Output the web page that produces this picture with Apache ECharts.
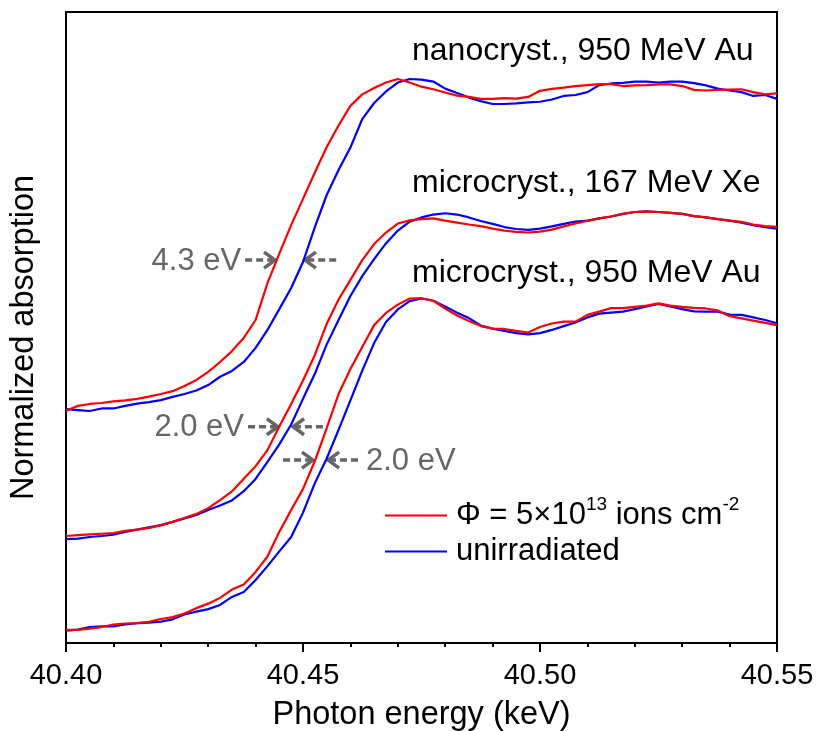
<!DOCTYPE html>
<html>
<head>
<meta charset="utf-8">
<script src="https://cdn.jsdelivr.net/npm/echarts@6/dist/echarts.min.js"></script>
<style>
  html, body { margin: 0; padding: 0; background: #fff; }
  #chart { width: 817px; height: 731px; }
</style>
</head>
<body>
<div id="chart"></div>
<script>
// Photon energy grid (keV)
const energy = [
  40.4000, 40.4025, 40.4050, 40.4075, 40.4100, 40.4125, 40.4150, 40.4175, 40.4200, 40.4225,
  40.4250, 40.4275, 40.4300, 40.4325, 40.4350, 40.4375, 40.4400, 40.4425, 40.4450, 40.4475,
  40.4500, 40.4525, 40.4550, 40.4575, 40.4600, 40.4625, 40.4650, 40.4675, 40.4700, 40.4725,
  40.4750, 40.4775, 40.4800, 40.4825, 40.4850, 40.4875, 40.4900, 40.4925, 40.4950, 40.4975,
  40.5000, 40.5025, 40.5050, 40.5075, 40.5100, 40.5125, 40.5150, 40.5175, 40.5200, 40.5225,
  40.5250, 40.5275, 40.5300, 40.5325, 40.5350, 40.5375, 40.5400, 40.5425, 40.5450, 40.5475,
  40.5500
];

// Normalized absorption, spectra offset vertically for clarity
// nanocrystalline, 950 MeV Au
const nanoIrr = [
  0.756, 0.771, 0.777, 0.780, 0.785, 0.788, 0.793, 0.800, 0.808, 0.817,
  0.833, 0.852, 0.877, 0.908, 0.942, 0.983, 1.039, 1.154, 1.246, 1.335,
  1.417, 1.499, 1.579, 1.646, 1.707, 1.743, 1.763, 1.780, 1.791, 1.780,
  1.767, 1.759, 1.749, 1.739, 1.735, 1.729, 1.729, 1.731, 1.730, 1.735,
  1.754, 1.760, 1.764, 1.769, 1.772, 1.775, 1.775, 1.769, 1.771, 1.772,
  1.774, 1.774, 1.769, 1.757, 1.755, 1.757, 1.758, 1.759, 1.750, 1.743, 1.746
];
const nanoRef = [
  0.761, 0.758, 0.755, 0.763, 0.763, 0.771, 0.778, 0.783, 0.789, 0.799,
  0.808, 0.819, 0.836, 0.862, 0.880, 0.908, 0.952, 1.008, 1.073, 1.139,
  1.220, 1.329, 1.429, 1.507, 1.577, 1.666, 1.716, 1.752, 1.780, 1.791,
  1.789, 1.783, 1.761, 1.747, 1.733, 1.722, 1.713, 1.713, 1.715, 1.718,
  1.720, 1.727, 1.738, 1.741, 1.750, 1.772, 1.777, 1.779, 1.783, 1.783,
  1.780, 1.783, 1.783, 1.778, 1.771, 1.761, 1.755, 1.750, 1.738, 1.741, 1.729
];
// microcrystalline, 167 MeV Xe
const xeIrr = [
  0.365, 0.368, 0.370, 0.372, 0.374, 0.381, 0.385, 0.390, 0.398, 0.409,
  0.421, 0.434, 0.452, 0.477, 0.504, 0.544, 0.583, 0.633, 0.707, 0.777,
  0.850, 0.930, 1.027, 1.103, 1.164, 1.226, 1.276, 1.312, 1.340, 1.350,
  1.354, 1.356, 1.349, 1.343, 1.337, 1.332, 1.324, 1.318, 1.314, 1.312,
  1.315, 1.321, 1.331, 1.340, 1.348, 1.356, 1.362, 1.370, 1.376, 1.377,
  1.376, 1.373, 1.370, 1.363, 1.359, 1.354, 1.349, 1.345, 1.337, 1.332, 1.330
];
const xeRef = [
  0.355, 0.357, 0.362, 0.365, 0.369, 0.378, 0.385, 0.392, 0.399, 0.409,
  0.420, 0.431, 0.446, 0.460, 0.476, 0.505, 0.543, 0.596, 0.651, 0.713,
  0.793, 0.871, 0.963, 1.039, 1.114, 1.176, 1.229, 1.278, 1.318, 1.346,
  1.359, 1.368, 1.372, 1.368, 1.359, 1.348, 1.339, 1.329, 1.323, 1.320,
  1.324, 1.331, 1.339, 1.346, 1.349, 1.356, 1.362, 1.370, 1.376, 1.378,
  1.376, 1.373, 1.370, 1.363, 1.359, 1.354, 1.349, 1.343, 1.335, 1.329, 1.324
];
// microcrystalline, 950 MeV Au
const auIrr = [
  0.072, 0.072, 0.076, 0.081, 0.089, 0.092, 0.093, 0.097, 0.106, 0.112,
  0.123, 0.140, 0.154, 0.172, 0.198, 0.214, 0.253, 0.301, 0.378, 0.446,
  0.512, 0.599, 0.702, 0.808, 0.886, 0.955, 1.023, 1.061, 1.087, 1.106,
  1.107, 1.099, 1.075, 1.053, 1.036, 1.020, 1.012, 1.011, 1.005, 1.000,
  1.017, 1.028, 1.034, 1.034, 1.055, 1.065, 1.076, 1.076, 1.080, 1.084,
  1.091, 1.084, 1.080, 1.077, 1.075, 1.069, 1.051, 1.044, 1.037, 1.030, 1.023
];
const auRef = [
  0.070, 0.073, 0.081, 0.083, 0.083, 0.089, 0.093, 0.095, 0.098, 0.105,
  0.120, 0.129, 0.137, 0.150, 0.175, 0.190, 0.228, 0.271, 0.317, 0.362,
  0.438, 0.530, 0.607, 0.696, 0.788, 0.881, 0.967, 1.033, 1.072, 1.098,
  1.106, 1.099, 1.081, 1.062, 1.045, 1.022, 1.012, 1.005, 0.998, 0.994,
  0.998, 1.008, 1.020, 1.031, 1.047, 1.059, 1.062, 1.065, 1.073, 1.081,
  1.089, 1.081, 1.073, 1.066, 1.065, 1.065, 1.056, 1.055, 1.047, 1.039, 1.029
];

const sampleLabels = ['nanocryst., 950 MeV Au', 'microcryst., 167 MeV Xe', 'microcryst., 950 MeV Au'];
const irrName = 'Φ = 5×10^13 ions cm^-2';
const refName = 'unirradiated';

// Edge-shift markers: level (normalized absorption), arrow tail/tip energies (keV), text
const shiftText = ['4.3 eV', '2.0 eV', '2.0 eV'];
const shiftLevel = [1.226, 0.706, 0.602];
const shiftRightArrow = [[40.4378, 40.4441], [40.4384, 40.4447], [40.4458, 40.4521]];
const shiftLeftArrow = [[40.4570, 40.4504], [40.4542, 40.4479], [40.4616, 40.4553]];
const shiftTextSide = ['before', 'before', 'after'];

const FONT = '"Liberation Sans", Arial, Helvetica, sans-serif';
const RED = '#ff0000';
const BLUE = '#0000ff';
const GREY = '#666666';

const pairs = arr => energy.map((e, i) => [e, arr[i]]);

function lineSeries(name, arr, color) {
  return {
    name: name,
    type: 'line',
    data: pairs(arr),
    symbol: 'none',
    smooth: false,
    lineStyle: { color: color, width: 2.2 },
    itemStyle: { color: color },
    emphasis: { disabled: true },
    animation: false
  };
}

const chart = echarts.init(document.getElementById('chart'), null, { renderer: 'canvas' });

chart.setOption({
  backgroundColor: '#ffffff',
  animation: false,
  grid: {
    left: 66, right: 40, top: 12, bottom: 88,
    containLabel: false,
    outerBoundsMode: 'none',
    show: true, borderColor: '#000', borderWidth: 2, backgroundColor: 'transparent'
  },
  xAxis: {
    type: 'value',
    min: 40.40, max: 40.55, interval: 0.05,
    name: 'Photon energy (keV)',
    nameLocation: 'middle',
    nameGap: 56,
    nameTextStyle: { fontFamily: FONT, fontSize: 32.5, color: '#000' },
    axisLine: { show: true, lineStyle: { color: '#000', width: 2 } },
    axisTick: { show: true, inside: false, length: 9, lineStyle: { color: '#000', width: 2 } },
    minorTick: { show: true, splitNumber: 5, length: 4, lineStyle: { color: '#000', width: 2 } },
    axisLabel: {
      fontFamily: FONT, fontSize: 29, color: '#000', margin: 18,
      formatter: v => v.toFixed(2)
    },
    splitLine: { show: false },
    minorSplitLine: { show: false }
  },
  yAxis: {
    type: 'value',
    min: 0.0312, max: 2,
    name: 'Normalized absorption',
    nameLocation: 'middle',
    nameGap: 25,
    nameTextStyle: { fontFamily: FONT, fontSize: 32.5, color: '#000', padding: [0, 20, 0, 0] },
    axisLine: { show: true, lineStyle: { color: '#000', width: 2 } },
    axisTick: { show: false },
    axisLabel: { show: false },
    splitLine: { show: false }
  },
  legend: {
    data: [irrName, refName],
    orient: 'vertical',
    left: 380,
    top: 490,
    icon: 'rect',
    itemWidth: 62,
    itemHeight: 2,
    itemGap: 5,
    selectedMode: false,
    formatter: name => name === irrName
      ? '{t|Φ = 5×10}{sup|13}{t| ions cm}{sup|-2}'
      : '{t|' + name + '}',
    textStyle: {
      fontFamily: FONT, fontSize: 31, color: '#000', padding: [0, 0, 0, 4],
      rich: {
        t: { fontFamily: FONT, fontSize: 31, color: '#000' },
        sup: { fontFamily: FONT, fontSize: 19, color: '#000', padding: [0, 0, 22, 0] }
      }
    }
  },
  series: [
    lineSeries(refName, nanoRef, BLUE),
    lineSeries(refName, xeRef, BLUE),
    lineSeries(refName, auRef, BLUE),
    lineSeries(irrName, nanoIrr, RED),
    lineSeries(irrName, xeIrr, RED),
    lineSeries(irrName, auIrr, RED)
  ]
});

// Sample labels and edge-shift arrows
const labelPos = [[412, 51], [412, 183], [412, 273]];
const graphics = [];
sampleLabels.forEach((txt, i) => {
  graphics.push({
    type: 'text', x: labelPos[i][0], y: labelPos[i][1], silent: true,
    style: { text: txt, fontFamily: FONT, fontSize: 32, fill: '#000', align: 'left', verticalAlign: 'middle' }
  });
});

function arrow(tailE, tipE, level) {
  const a = chart.convertToPixel({ gridIndex: 0 }, [tailE, level]);
  const b = chart.convertToPixel({ gridIndex: 0 }, [tipE, level]);
  const dir = b[0] > a[0] ? 1 : -1;
  return [
    {
      type: 'polyline', silent: true,
      shape: { points: [[a[0], a[1]], [b[0] - dir * 2, b[1]]] },
      style: { stroke: GREY, lineWidth: 3.5, lineDash: [7, 4], fill: null }
    },
    {
      type: 'polyline', silent: true,
      shape: { points: [[b[0] - dir * 11, b[1] - 8], [b[0], b[1]], [b[0] - dir * 11, b[1] + 8]] },
      style: { stroke: GREY, lineWidth: 3.5, fill: null, lineJoin: 'miter' }
    }
  ];
}

shiftText.forEach((txt, i) => {
  const lvl = shiftLevel[i];
  graphics.push(...arrow(shiftRightArrow[i][0], shiftRightArrow[i][1], lvl));
  graphics.push(...arrow(shiftLeftArrow[i][0], shiftLeftArrow[i][1], lvl));
  let p, align;
  if (shiftTextSide[i] === 'before') {
    p = chart.convertToPixel({ gridIndex: 0 }, [shiftRightArrow[i][0], lvl]);
    p = [p[0] - 4, p[1]];
    align = 'right';
  } else {
    p = chart.convertToPixel({ gridIndex: 0 }, [shiftLeftArrow[i][0], lvl]);
    p = [p[0] + 8, p[1]];
    align = 'left';
  }
  graphics.push({
    type: 'text', x: p[0], y: p[1] + 1, silent: true,
    style: { text: txt, fontFamily: FONT, fontSize: 31, fill: GREY, align: align, verticalAlign: 'middle' }
  });
});

chart.setOption({ graphic: graphics });
</script>
</body>
</html>
